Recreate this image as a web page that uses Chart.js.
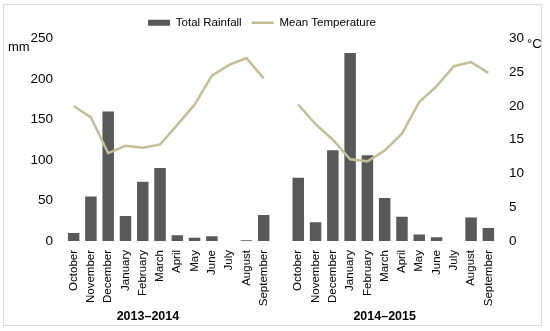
<!DOCTYPE html>
<html>
<head>
<meta charset="utf-8">
<script src="https://cdn.jsdelivr.net/npm/chart.js@4.4.0/dist/chart.umd.min.js"></script>
<style>
  body { margin: 0; background: #fff; }
  #wrap { width: 550px; height: 331px; }
</style>
</head>
<body>
<div id="wrap"><canvas id="myChart" width="550" height="331"></canvas></div>
<script>
// two seasons, Oct..Sep, with an empty slot between them
const months = ['October', 'November', 'December', 'January', 'February', 'March',
                'April', 'May', 'June', 'July', 'August', 'September'];
const seasons = ['2013–2014', '2014–2015'];

const rainfall1314 = [10, 55, 160, 31, 73, 90, 7, 4, 6, 0, 1, 32];
const rainfall1415 = [78, 23, 112, 232, 106, 53, 30, 8, 4.5, 0, 29, 16];
const temp1314 = [20, 18.3, 13, 14.1, 13.8, 14.3, 17.2, 20.2, 24.5, 26.1, 27.1, 24.1];
const temp1415 = [20.2, 17.3, 15, 12.1, 11.8, 13.4, 15.9, 20.6, 22.9, 25.9, 26.5, 24.9];

const rainTicks = [0, 50, 100, 150, 200, 250];
const tempTicks = [0, 5, 10, 15, 20, 25, 30];

const labels = months.concat([''], months);
const rainData = rainfall1314.concat([null], rainfall1415);
const tempData = temp1314.concat([null], temp1415);

const fontFam = "'Liberation Sans Narrow', 'Arial Narrow', 'Liberation Sans', Arial, sans-serif";

// frame, unit labels and season labels
const extras = {
    id: 'extras',
    afterDraw(chart) {
        const ctx = chart.ctx;
        const x = chart.scales.x;
        ctx.save();
        ctx.strokeStyle = '#d9d9d9';
        ctx.lineWidth = 1;
        ctx.strokeRect(3.5, 4.5, 538, 321);

        ctx.fillStyle = '#000';
        ctx.font = '13px ' + fontFam;
        ctx.textBaseline = 'middle';
        ctx.textAlign = 'left';
        ctx.fillText('mm', 8, 47);
        ctx.fillText('°C', 527, 44);

        ctx.font = 'bold 12.5px ' + fontFam;
        ctx.textAlign = 'center';
        ctx.fillText(seasons[0], x.getPixelForValue(4.3), 317);
        ctx.fillText(seasons[1], x.getPixelForValue(18), 317);
        ctx.restore();
    }
};

const ctx = document.getElementById('myChart').getContext('2d');
const myChart = new Chart(ctx, {
    type: 'bar',
    data: {
        labels: labels,
        datasets: [{
            type: 'bar',
            label: 'Total Rainfall',
            data: rainData,
            backgroundColor: '#595959',
            borderWidth: 0,
            barPercentage: 0.665,
            categoryPercentage: 1,
            pointStyle: 'rect',
            yAxisID: 'y',
            order: 1
        }, {
            type: 'line',
            label: 'Mean Temperature',
            data: tempData,
            borderColor: '#C4BD97',
            backgroundColor: '#C4BD97',
            borderWidth: 2.5,
            pointRadius: 0,
            pointStyle: 'line',
            tension: 0,
            spanGaps: false,
            yAxisID: 'y1',
            order: 0
        }]
    },
    options: {
        responsive: false,
        animation: false,
        layout: { padding: { top: 7, right: 26, left: 0, bottom: 0 } },
        plugins: {
            tooltip: { enabled: false },
            legend: {
                position: 'top',
                labels: {
                    usePointStyle: true,
                    pointStyleWidth: 22,
                    boxHeight: 6,
                    padding: 10,
                    color: '#000',
                    font: { family: fontFam, size: 11.5 },
                    sort: (a, b) => a.datasetIndex - b.datasetIndex
                }
            }
        },
        scales: {
            x: {
                grid: { display: false, drawTicks: false },
                border: { display: false },
                ticks: {
                    minRotation: 90,
                    maxRotation: 90,
                    autoSkip: false,
                    padding: 9,
                    color: '#000',
                    font: { family: fontFam, size: 11.5 }
                },
                afterFit: (s) => { s.height = 90; }
            },
            y: {
                position: 'left',
                min: 0,
                max: 250,
                afterBuildTicks: (s) => { s.ticks = rainTicks.map(v => ({ value: v })); },
                grid: { display: false, drawTicks: false },
                border: { display: false },
                ticks: {
                    padding: 12,
                    color: '#000',
                    font: { family: fontFam, size: 13.5 }
                },
                afterFit: (s) => { s.width = 65; }
            },
            y1: {
                position: 'right',
                min: 0,
                max: 30,
                afterBuildTicks: (s) => { s.ticks = tempTicks.map(v => ({ value: v })); },
                grid: { display: false, drawTicks: false },
                border: { display: false },
                ticks: {
                    padding: 12,
                    crossAlign: 'near',
                    color: '#000',
                    font: { family: fontFam, size: 13.5 }
                },
                afterFit: (s) => { s.width = 27; }
            }
        }
    },
    plugins: [extras]
});
</script>
</body>
</html>
